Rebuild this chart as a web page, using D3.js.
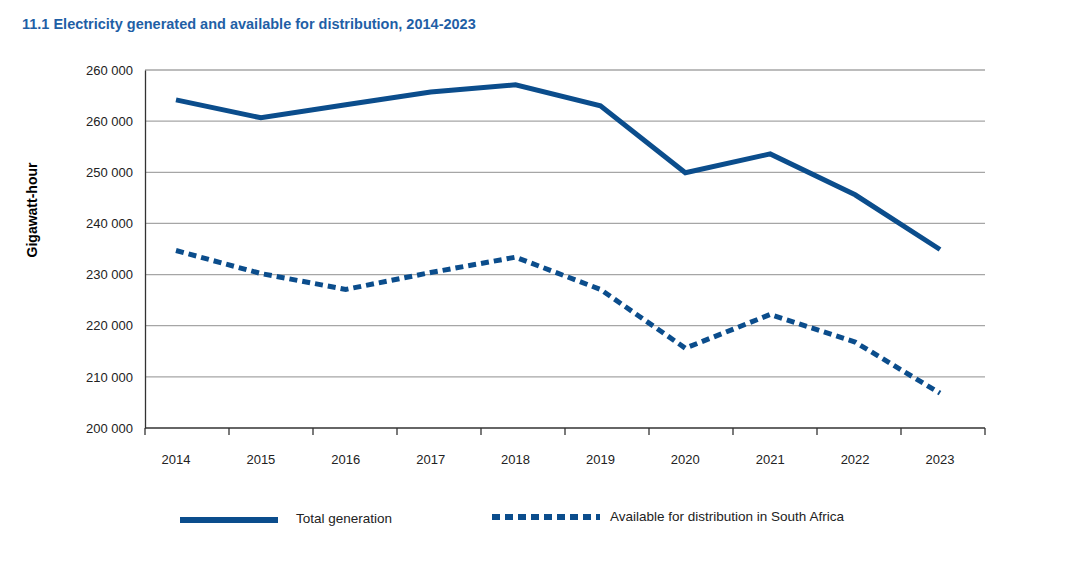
<!DOCTYPE html>
<html><head><meta charset="utf-8">
<script src="https://cdn.jsdelivr.net/npm/d3@7"></script>
<style>body{margin:0;background:#fff;font-family:"Liberation Sans",Arial,sans-serif}</style>
</head><body><svg id="chart" width="1089" height="583"></svg>
<script>
const years = ["2014","2015","2016","2017","2018","2019","2020","2021","2022","2023"];
const totalGeneration = [264150,260650,263200,265700,267100,263000,249900,253600,245600,234900];
const availableSA = [234700,230200,227100,230400,233400,227100,215600,222200,216800,206800];
const yTicks = [200000,210000,220000,230000,240000,250000,260000,270000];
const yTickLabels = ["200 000","210 000","220 000","230 000","240 000","250 000","260 000","260 000"];

const blue = "#0b4d8c";
const svg = d3.select("#chart");
const plotLeft = 145, plotRight = 985, plotTop = 70, plotBottom = 428;

const y = d3.scaleLinear().domain([200000,270000]).range([plotBottom, plotTop]);
const band = d3.scaleBand().domain(years).range([plotLeft, plotRight]);
const x = d3.scalePoint().domain(years).range([176, 940]);

svg.append("text").attr("x",22).attr("y",29).attr("fill","#1f5fa6")
  .attr("font-weight","bold").attr("font-size",14.5).text("11.1 Electricity generated and available for distribution, 2014-2023");

svg.append("g").selectAll("line").data(yTicks.slice(1)).enter().append("line")
  .attr("x1",plotLeft).attr("x2",plotRight).attr("y1",d=>y(d)).attr("y2",d=>y(d))
  .attr("stroke","#a6a6a6").attr("stroke-width",1.3);

svg.append("g").attr("transform",`translate(${plotLeft},0)`)
  .call(d3.axisLeft(y).tickValues(yTicks).tickFormat((d,i)=>yTickLabels[i]).tickSize(0).tickPadding(12))
  .call(g=>g.select(".domain").attr("stroke","#333").attr("stroke-width",1.3))
  .selectAll("text").attr("font-size",13).attr("fill","#222");

const xg = svg.append("g").attr("transform",`translate(0,${plotBottom})`);
xg.append("line").attr("x1",plotLeft).attr("x2",plotRight).attr("stroke","#333").attr("stroke-width",1.3);
xg.selectAll(".tk").data(years.concat(["end"])).enter().append("line")
  .attr("x1",(d,i)=>plotLeft+i*band.step()).attr("x2",(d,i)=>plotLeft+i*band.step())
  .attr("y1",0).attr("y2",7).attr("stroke","#333").attr("stroke-width",1.3);
xg.selectAll("text").data(years).enter().append("text")
  .attr("x",d=>x(d)).attr("y",36).attr("text-anchor","middle").attr("font-size",13).attr("fill","#222").text(d=>d);

svg.append("text").attr("transform","translate(37,210) rotate(-90)").attr("text-anchor","middle")
  .attr("font-weight","bold").attr("font-size",14).text("Gigawatt-hour");

const line = d3.line().x((d,i)=>x(years[i])).y(d=>y(d));
svg.append("path").attr("d",line(totalGeneration)).attr("fill","none").attr("stroke",blue).attr("stroke-width",5);
svg.append("path").attr("d",line(availableSA)).attr("fill","none").attr("stroke",blue).attr("stroke-width",5).attr("stroke-dasharray","8,5");

const lg = svg.append("g");
lg.append("line").attr("x1",180).attr("x2",278).attr("y1",520).attr("y2",520).attr("stroke",blue).attr("stroke-width",6);
lg.append("text").attr("x",296).attr("y",523).attr("font-size",13.5).attr("fill","#222").text("Total generation");
lg.append("line").attr("x1",492).attr("x2",600).attr("y1",517).attr("y2",517).attr("stroke",blue).attr("stroke-width",6).attr("stroke-dasharray","8,5");
lg.append("text").attr("x",610).attr("y",521).attr("font-size",13.5).attr("fill","#222").text("Available for distribution in South Africa");
</script></body></html>
